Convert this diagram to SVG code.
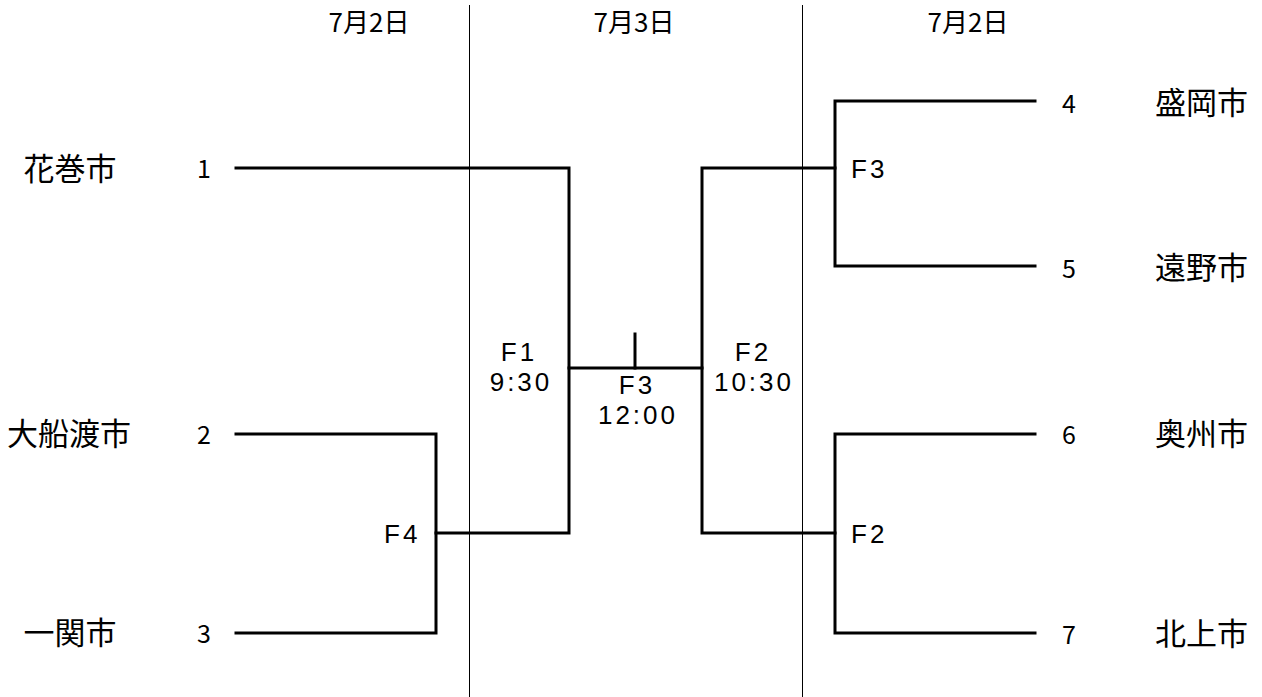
<svg xmlns="http://www.w3.org/2000/svg" width="1262" height="697" viewBox="0 0 1262 697">
<style>
.bg{fill:#fff}
.thin{stroke:#000;stroke-width:1;fill:none}
.br{stroke:#000;stroke-width:3;fill:none;stroke-linecap:square}
.city{font-family:"Noto Sans CJK JP","Noto Sans",sans-serif;font-size:31px;fill:#000}
.date{font-family:"Noto Sans CJK JP","Noto Sans",sans-serif;font-size:26px;fill:#000;text-anchor:middle}
.num{font-family:"Noto Sans CJK JP","Noto Sans",sans-serif;font-size:25px;fill:#000;text-anchor:middle}
.game{font-family:"Liberation Sans",Arial,sans-serif;font-size:26px;fill:#000;letter-spacing:3px}
.mid{text-anchor:middle}
</style>
<rect class="bg" x="0" y="0" width="1262" height="697"/>
<g id="day-columns">
<line class="thin" x1="469.5" y1="5" x2="469.5" y2="697"/>
<line class="thin" x1="802.5" y1="5" x2="802.5" y2="697"/>
<text class="date" x="369" y="32">7月2日</text>
<text class="date" x="634" y="32">7月3日</text>
<text class="date" x="968" y="32">7月2日</text>
</g>
<g id="connectors">
<polyline class="br" points="236,168 569,168 569,533 436,533"/>
<polyline class="br" points="236,434 436,434 436,633 236,633"/>
<line class="br" x1="569" y1="368" x2="702" y2="368"/>
<line class="br" x1="635" y1="334" x2="635" y2="368"/>
<polyline class="br" points="835,168 702,168 702,533 835,533"/>
<polyline class="br" points="1035,101 835,101 835,266 1035,266"/>
<polyline class="br" points="1035,434 835,434 835,633 1035,633"/>
</g>
<g id="team-1"><text class="city mid" x="70" y="180">花巻市</text><text class="num" x="204" y="178">1</text></g>
<g id="team-2"><text class="city mid" x="69" y="445">大船渡市</text><text class="num" x="204" y="444">2</text></g>
<g id="team-3"><text class="city mid" x="70" y="644">一関市</text><text class="num" x="204" y="643">3</text></g>
<g id="team-4"><text class="city" x="1155" y="114">盛岡市</text><text class="num" x="1069" y="113">4</text></g>
<g id="team-5"><text class="city" x="1155" y="279">遠野市</text><text class="num" x="1069" y="278">5</text></g>
<g id="team-6"><text class="city" x="1155" y="445">奥州市</text><text class="num" x="1069" y="444">6</text></g>
<g id="team-7"><text class="city" x="1155" y="645">北上市</text><text class="num" x="1069" y="644">7</text></g>
<g id="game-F4"><text class="game" x="384" y="543">F4</text></g>
<g id="game-F3a"><text class="game" x="851" y="178">F3</text></g>
<g id="game-F2a"><text class="game" x="851" y="543">F2</text></g>
<g id="game-F1"><text class="game mid" x="519" y="361">F1</text><text class="game mid" x="521" y="391">9:30</text></g>
<g id="game-F3"><text class="game mid" x="637" y="394">F3</text><text class="game mid" x="638" y="424">12:00</text></g>
<g id="game-F2"><text class="game mid" x="753" y="361">F2</text><text class="game mid" x="754" y="391">10:30</text></g>
</svg>
